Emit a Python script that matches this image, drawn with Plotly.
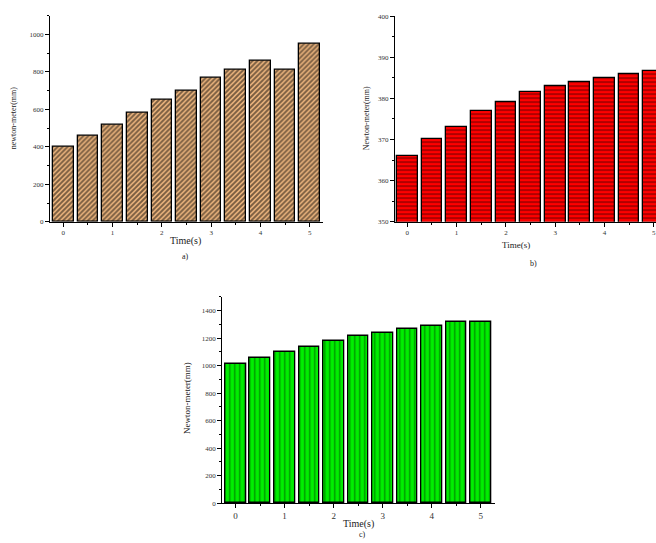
import plotly.graph_objects as go

OFF = 0
W, H = 656, 543

times = [0, 0.5, 1, 1.5, 2, 2.5, 3, 3.5, 4, 4.5, 5]
vals_a = [400, 460, 520, 580, 650, 700, 770, 810, 860, 810, 950]
vals_b = [366, 370, 373, 377, 379, 381.5, 383, 384, 385, 386, 386.7]
vals_c = [1010, 1055, 1100, 1135, 1180, 1215, 1240, 1270, 1290, 1315, 1320]
xticks = [0, 1, 2, 3, 4, 5]

FONT = "Liberation Serif"

fig = go.Figure()

def px_x(p):
    return min(1.0, (p - OFF) / W)

def px_y(p):
    return 1 - (p - OFF) / H

fig.add_trace(go.Bar(
    x=times, y=vals_a, width=0.42, xaxis="x", yaxis="y",
    marker=dict(color="#F0B880", line=dict(color="black", width=1.3),
                pattern=dict(shape="/", fgcolor="#000000", bgcolor="#F0B880", size=3.5, solidity=0.55)),
    showlegend=False))
fig.add_trace(go.Bar(
    x=times, y=vals_b, width=0.42, xaxis="x2", yaxis="y2",
    marker=dict(color="#FF0000", line=dict(color="black", width=1.3),
                pattern=dict(shape="-", fgcolor="#1a0000", bgcolor="#FF0000", size=4, solidity=0.35)),
    showlegend=False))
fig.add_trace(go.Bar(
    x=times, y=vals_c, width=0.42, xaxis="x3", yaxis="y3",
    marker=dict(color="#00F000", line=dict(color="black", width=1.3),
                pattern=dict(shape="|", fgcolor="#003300", bgcolor="#00F000", size=5, solidity=0.28)),
    showlegend=False))

def xaxis(domain, rng, anchor, fs):
    return dict(domain=domain, range=rng, anchor=anchor, showline=True, linecolor="black", linewidth=1.2,
                ticks="outside", ticklen=4, tickcolor="black", tickvals=xticks, showgrid=False,
                zeroline=False, tickfont=dict(family=FONT, size=fs, color="#333333"),
                ticklabeloverflow="allow",
                minor=dict(dtick=0.5, tick0=0, ticks="outside", ticklen=2, tickcolor="black"))

def yaxis(domain, rng, anchor, dtick, mdtick, fs):
    return dict(domain=domain, range=rng, anchor=anchor, showline=True, linecolor="black", linewidth=1.2,
                ticks="outside", ticklen=4, tickcolor="black", dtick=dtick, showgrid=False,
                zeroline=False, tickfont=dict(family=FONT, size=fs, color="#333333"),
                minor=dict(dtick=mdtick, ticks="outside", ticklen=2, tickcolor="black"))

fig.update_layout(
    width=W, height=H, margin=dict(l=0, r=0, t=0, b=0),
    paper_bgcolor="white", plot_bgcolor="white", bargap=0,
    xaxis=xaxis([px_x(50), px_x(323)], [-0.27, 5.27], "y", 7),
    yaxis=yaxis([px_y(221), px_y(12)], [0, 1100], "x", 200, 100, 7),
    xaxis2=xaxis([px_x(395), 1.0], [-0.25, 5.045], "y2", 7),
    yaxis2=yaxis([px_y(221), px_y(12.3)], [350, 400], "x2", 10, 5, 7),
    xaxis3=xaxis([px_x(222.3), px_x(495)], [-0.27, 5.29], "y3", 9),
    yaxis3=yaxis([px_y(506.7), px_y(297.3)], [0, 1500], "x3", 200, 100, 7),
)

def label(x, y, text, size, angle=0, color="#222222"):
    fig.add_annotation(x=px_x(x), y=px_y(y), xref="paper", yref="paper", text=text, showarrow=False,
                       textangle=angle, font=dict(family=FONT, size=size, color=color),
                       xanchor="center", yanchor="middle")

label(186, 240.5, "Time(s)", 10)
label(186, 256, "a)", 8)
label(13, 116, "newton-meter(mm)", 8, -90)
label(516, 245, "Time(s)", 9)
label(533, 263, "b)", 8)
label(366, 116, "Newton-meter(mm)", 8, -90)
label(358, 528, "Time(s)", 10)
label(362, 538.5, "c)", 8)
label(187, 400, "Newton-meter(mm)", 9, -90)

fig.write_html("out.html", config={"displayModeBar": False},
               post_script="document.body.style.margin='0';document.body.style.overflow='hidden';")
